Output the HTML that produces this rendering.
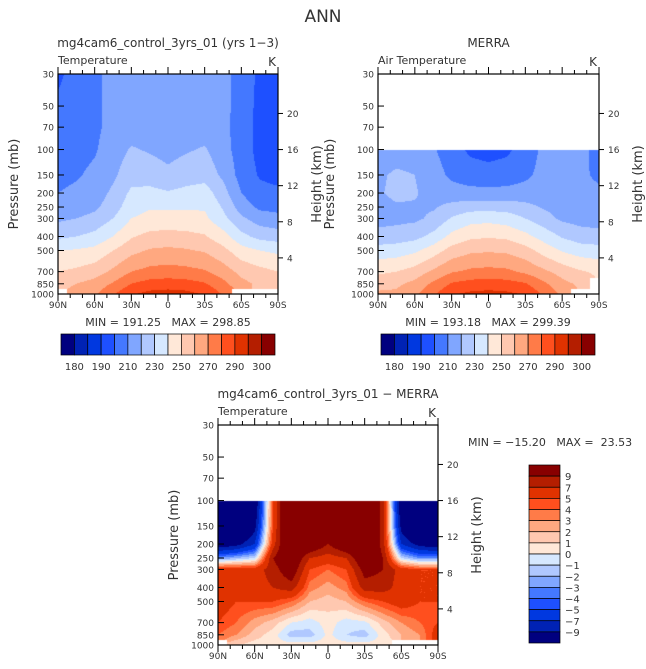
<!DOCTYPE html>
<html><head><meta charset="utf-8">
<style>
html,body{margin:0;padding:0;background:#fff;}
body{width:646px;height:669px;position:relative;overflow:hidden;font-family:"Liberation Sans",sans-serif;}
canvas{position:absolute;}
svg{position:absolute;left:0;top:0;}
text{font-family:"DejaVu Sans","Liberation Sans",sans-serif;fill:#333;white-space:pre;}
</style></head><body>
<canvas id="c1" width="220" height="220" style="left:58px;top:74px"></canvas>
<canvas id="c2" width="221" height="220" style="left:378px;top:74px"></canvas>
<canvas id="c3" width="220" height="220" style="left:218px;top:425px"></canvas>
<svg id="s" width="646" height="669"></svg>
<script>
const lats=[90,75,60,45,30,15,0,-15,-30,-45,-60,-75,-90];
const plevs=[30,50,70,100,150,200,250,300,400,500,700,850,1000];
const N=null;
const modelT=[
[198,204,208,213,215,215,215,215,215,213,206,198,195],
[202,205,208,213,215,215,215,215,215,213,206,197,195],
[204,206,208,213,215,215,215,215,215,213,205,197,195],
[205,207,209,215,221,219,217,219,221,214,205,197,195],
[207,209,212,218,226,225,222,225,226,218,206,199,197],
[210,212,215,222,232,233,231,233,235,224,210,203,202],
[213,215,218,225,236,239,239,239,239,229,215,208,207],
[218,220,223,230,240,243,243,243,242,233,222,215,213],
[228,230,233,240,249,253,254,253,251,244,233,227,225],
[240,241,243,250,257,261,262,261,259,253,244,240,238],
[250,252,255,262,270,273,274,273,271,265,257,253,250],
[258,260,264,271,280,284,285,284,281,273,263,258,256],
[N,262,268,279,289,293,294,293,289,279,N,N,N]];
const merraT=[
[N,N,N,N,N,N,N,N,N,N,N,N,N],
[N,N,N,N,N,N,N,N,N,N,N,N,N],
[N,N,N,N,N,N,N,N,N,N,N,N,N],
[212,214,214,211,205,198,196,198,205,212,214,213,206],
[218,222,220,214,208,205,204,205,208,213,214,212,208],
[219,222,221,216,214,213,213,213,214,214,214,213,212],
[217,219,219,219,223,226,226,226,223,219,216,215,214],
[216,217,218,222,231,236,237,235,230,224,218,216,215],
[224,225,227,233,243,248,249,248,243,236,229,225,224],
[234,235,238,245,254,258,259,258,254,246,239,235,234],
[248,250,254,262,269,272,273,272,268,262,256,251,248],
[256,258,263,272,281,284,285,284,281,272,263,258,N],
[262,262,268,278,289,292,293,292,289,278,268,N,N]];
const diffT=[
[N,N,N,N,N,N,N,N,N,N,N,N,N],
[N,N,N,N,N,N,N,N,N,N,N,N,N],
[N,N,N,N,N,N,N,N,N,N,N,N,N],
[-15,-15,-12,5,15,15,15,15,15,8,-12,-15,-15],
[-15,-14,-10,5,15,15,15,15,15,8,-10,-15,-15],
[-11,-10,-7,6,14,12,9,12,14,8,-7,-10,-11],
[-3,-2,-1,9,12,7,6,7,12,9,-1,-3,-3],
[6,6,6,8,11,5,4,5,10,9,6,5,5],
[6,6,6,7,8,3.5,2.5,3.5,8,8,6,5,5],
[6,5,5,5,4,2,1.5,2,4,5,6,5,5],
[5,4,2.5,1.5,0,-0.5,0.5,-0.5,-0.3,1.5,3,4,5],
[4,3,1.5,0.5,-1.5,-1.5,0.3,-1,-1.5,0.5,2,3,6],
[N,1,0.5,0.5,0.5,0.5,0.5,0.5,0.5,0.5,N,N,N]];
const tLevels=[180,185,190,200,210,220,230,240,250,260,270,280,290,295,300];
const tLabels=["180","190","210","230","250","270","290","300"];
const dLevels=[-9,-7,-5,-4,-3,-2,-1,0,1,2,3,4,5,7,9];
const dLabels=["9","7","5","4","3","2","1","0","\u22121","\u22122","\u22123","\u22124","\u22125","\u22127","\u22129"];
const latTicks=["90N","60N","30N","0","30S","60S","90S"];
const pTicks=[30,50,70,100,150,200,250,300,400,500,700,850,1000];
const zTicks=[4,8,12,16,20];
const colors=["#00007f","#0022b4","#0038e0","#1e50ff","#4478ff","#80a6ff","#b0c8ff","#d6e8ff","#ffe8d8","#ffc8b0","#ffa880","#ff7b48","#ff4f1e","#e03200","#b41e00","#880000"];

const H=220, LR=Math.log(1000/30);
function yOfP(p){return H*Math.log(p/30)/LR;}
function binOf(v,lv){let i=0;while(i<lv.length&&v>=lv[i])i++;return i;}
function drawField(id,grid,lv){
  const c=document.getElementById(id),ctx=c.getContext('2d'),W=c.width;
  const img=ctx.createImageData(W,H);
  const lp=plevs.map(p=>Math.log(p));
  for(let y=0;y<H;y++){
    const lg=Math.log(30)+(y+0.5)/H*LR;
    let k=0;while(k<plevs.length-2&&lg>lp[k+1])k++;
    const fy=Math.min(1,Math.max(0,(lg-lp[k])/(lp[k+1]-lp[k])));
    const rowEmpty=grid[k].every(v=>v===null);
    for(let x=0;x<W;x++){
      const u=(x+0.5)/W*(lats.length-1);
      const j=Math.min(lats.length-2,Math.floor(u)),fx=u-j;
      const a=grid[k][j],b=grid[k][j+1],cc=grid[k+1][j],d=grid[k+1][j+1];
      const near=grid[fy<0.5?k:k+1][fx<0.5?j:j+1];
      let r=255,g=255,bl=255;
      if(near!==null&&!rowEmpty){
        const vs=[[a,(1-fx)*(1-fy)],[b,fx*(1-fy)],[cc,(1-fx)*fy],[d,fx*fy]];
        let s=0,w=0;vs.forEach(([v,ww])=>{if(v!==null){s+=v*ww;w+=ww;}});
        const col=colors[binOf(s/w,lv)];
        r=parseInt(col.substr(1,2),16);g=parseInt(col.substr(3,2),16);bl=parseInt(col.substr(5,2),16);
      }
      const o=(y*W+x)*4;img.data[o]=r;img.data[o+1]=g;img.data[o+2]=bl;img.data[o+3]=255;
    }
  }
  ctx.putImageData(img,0,0);
}
drawField('c1',modelT,tLevels);
drawField('c2',merraT,tLevels);
drawField('c3',diffT,dLevels);

const S=document.getElementById('s'),NS='http://www.w3.org/2000/svg';
function el(t,a,txt){const e=document.createElementNS(NS,t);for(const k in a)e.setAttribute(k,a[k]);if(txt!==undefined)e.textContent=txt;S.appendChild(e);return e;}
function txt(x,y,s,size,anchor,name,rot){
  const e=el('text',{x:x,y:y,'font-size':size,'text-anchor':anchor||'start'},s);
  if(rot)e.setAttribute('transform','rotate(-90 '+x+' '+y+')');
  
  
  return e;
}
function axes(x0,y0,W,pname,title,sub,pX){
  const g=el('g',{});
  
  
  el('rect',{x:x0,y:y0,width:W,height:H,fill:'none',stroke:'#000','stroke-width':1.2});
  for(let i=0;i<=18;i++){
    const x=x0+i*W/18,len=i%3==0?7:4;
    el('line',{x1:x,y1:y0,x2:x,y2:y0-len,stroke:'#000'});
    el('line',{x1:x,y1:y0+H,x2:x,y2:y0+H+len,stroke:'#000'});
  }
  latTicks.forEach((l,i)=>txt(x0+i*W/6,y0+H+14,l,9,'middle','lat-tick-label'));
  pTicks.forEach(p=>{const y=y0+yOfP(p);
    el('line',{x1:x0,y1:y,x2:x0+6,y2:y,stroke:'#000'});
    txt(x0-4,y+3.5,String(p),9,'end','pressure-tick-label');});
  zTicks.forEach(z=>{const p=1000*Math.exp(-z/6.95),y=y0+yOfP(p);
    el('line',{x1:x0+W,y1:y,x2:x0+W+5,y2:y,stroke:'#000'});
    txt(x0+W+9,y+3.5,String(z),9,'start','height-tick-label');});
  txt(pX,y0+H/2,'Pressure (mb)',13,'middle','y-axis-title',true).setAttribute('fill','#555');
  txt(x0+W+43,y0+H/2,'Height (km)',13,'middle','right-axis-title',true).setAttribute('fill','#555');
  txt(x0,y0-10,sub,11,'start','variable-label');
  txt(x0+W-2,y0-8,'K',12,'end','units-label');
  txt(x0+W/2,y0-27,title,12,'middle','panel-title');
}
function hbar(x0,y0,W,h){
  const bw=W/16;
  colors.forEach((c,i)=>{const r=el('rect',{x:x0+i*bw,y:y0,width:bw,height:h,fill:c,stroke:'#000','stroke-width':0.7});
    
    });
  tLabels.forEach((l,i)=>txt(x0+(1+2*i)*bw,y0+h+15,l,10,'middle','colorbar-label'));
}
txt(323,22,'ANN',17,'middle','figure-title').setAttribute('fill','#555');
axes(58,74,220,'model','mg4cam6_control_3yrs_01 (yrs 1\u22123)','Temperature',18);
txt(168,326,'MIN = 191.25   MAX = 298.85',11,'middle','min-max-label');
hbar(61,334,214,21);
axes(378,74,221,'merra','MERRA','Air Temperature',334);
txt(488,326,'MIN = 193.18   MAX = 299.39',11,'middle','min-max-label');
hbar(381,334,214,21);
axes(218,425,220,'diff','mg4cam6_control_3yrs_01 \u2212 MERRA','Temperature',178);
txt(468,446,'MIN = \u221215.20   MAX =  23.53',11,'start','min-max-label');
(function(){const x0=529,y0=465,h=178/16;
  for(let i=0;i<16;i++){const r=el('rect',{x:x0,y:y0+i*h,width:31,height:h,fill:colors[15-i],stroke:'#000','stroke-width':0.7});
    
    }
  dLabels.forEach((l,i)=>txt(x0+36,y0+(i+1)*h+4,l,10,'start','colorbar-label'));
})();
</script>
</body></html>
